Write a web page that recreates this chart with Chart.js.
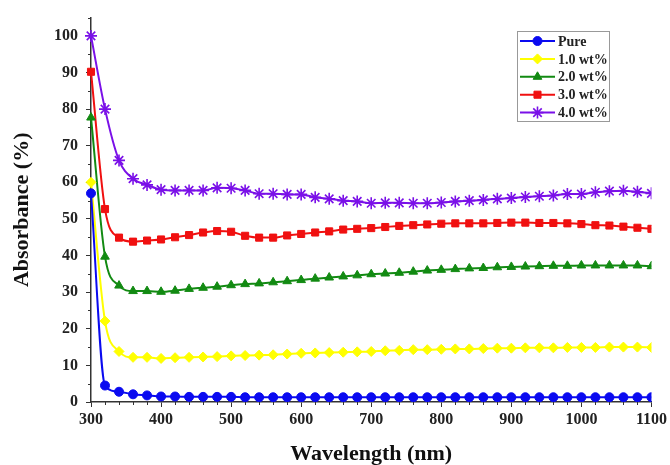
<!DOCTYPE html>
<html>
<head>
<meta charset="utf-8">
<script src="https://cdn.jsdelivr.net/npm/chart.js@4/dist/chart.umd.min.js"></script>
<style>
  html, body { margin: 0; padding: 0; background: #fff; }
  #wrap { width: 670px; height: 465px; position: relative; }
</style>
</head>
<body>
<div id="wrap"><canvas id="c" width="670" height="465"></canvas></div>
<script>
// Wavelength grid (nm)
const wavelengths = [300,320,340,360,380,400,420,440,460,480,500,520,540,560,580,600,620,640,660,680,700,
  720,740,760,780,800,820,840,860,880,900,920,940,960,980,1000,1020,1040,1060,1080,1100];

// Absorbance (%) for each sample
const pure = [57,4.5,2.8,2.1,1.8,1.5,1.5,1.4,1.4,1.4,1.4,1.3,1.3,1.3,1.3,1.3,1.3,1.3,1.3,1.3,1.3,
  1.3,1.3,1.3,1.3,1.3,1.3,1.3,1.3,1.3,1.3,1.3,1.3,1.3,1.3,1.3,1.3,1.3,1.3,1.3,1.3];
const wt10 = [60,22.1,13.8,12.2,12.2,11.9,12.1,12.2,12.3,12.4,12.6,12.7,12.8,12.9,13.1,13.3,13.4,13.5,13.6,13.7,13.8,
  14.0,14.1,14.3,14.3,14.4,14.5,14.5,14.6,14.7,14.7,14.8,14.8,14.8,14.9,14.9,14.9,15.0,15.0,15.0,14.9];
const wt20 = [77.7,39.7,31.8,30.3,30.3,30.1,30.4,30.9,31.2,31.5,31.9,32.2,32.4,32.7,33.0,33.3,33.7,34.0,34.3,34.6,34.9,
  35.1,35.3,35.6,35.9,36.1,36.3,36.5,36.6,36.8,36.9,37.0,37.1,37.2,37.2,37.3,37.3,37.3,37.3,37.3,37.1];
const wt30 = [90.2,52.7,44.9,43.8,44.1,44.4,45.0,45.6,46.3,46.7,46.5,45.4,44.9,44.9,45.5,45.9,46.3,46.6,47.1,47.3,47.5,
  47.8,48.1,48.3,48.5,48.7,48.8,48.8,48.8,48.9,49.0,49.0,48.9,48.9,48.8,48.6,48.3,48.2,47.9,47.6,47.3];
const wt40 = [100,80,66,61,59.3,58,57.8,57.8,57.8,58.5,58.4,57.8,56.9,56.9,56.7,56.7,55.9,55.5,55.0,54.8,54.3,
  54.4,54.4,54.3,54.3,54.5,54.8,55.0,55.2,55.5,55.7,56.0,56.2,56.4,56.8,56.8,57.3,57.6,57.7,57.4,57.0];

const seriesNames = ['Pure', '1.0 wt%', '2.0 wt%', '3.0 wt%', '4.0 wt%'];
const xTickValues = [300,400,500,600,700,800,900,1000,1100];
const yTickValues = [0,10,20,30,40,50,60,70,80,90,100];

const serif = '"Liberation Serif", "Times New Roman", serif';

function pts(values) {
  return wavelengths.map((w, i) => ({ x: w, y: values[i] }));
}

const styles = [
  { color: '#0a0af0', pointStyle: 'circle',   radius: 4.5, bw: 1 },
  { color: '#ffff00', pointStyle: 'rectRot',  radius: 5,   bw: 1 },
  { color: '#128a12', pointStyle: 'triangle', radius: 5,   bw: 1 },
  { color: '#f01010', pointStyle: 'rect',     radius: 5,   bw: 1 },
  { color: '#7a10e8', pointStyle: 'star',     radius: 6,   bw: 1.6 }
];
const allValues = [pure, wt10, wt20, wt30, wt40];

const datasets = allValues.map((vals, i) => ({
  label: seriesNames[i],
  data: pts(vals),
  borderColor: styles[i].color,
  backgroundColor: styles[i].color,
  pointBackgroundColor: styles[i].color,
  pointBorderColor: styles[i].color,
  pointStyle: styles[i].pointStyle,
  pointRadius: styles[i].radius,
  pointBorderWidth: styles[i].bw,
  borderWidth: 2,
  tension: 0.4,
  cubicInterpolationMode: 'monotone',
  clip: { left: 10, top: 10, right: 0, bottom: 0 }
}));

// Minor tick marks on both axes
const minorTicks = {
  id: 'minorTicks',
  afterDraw(chart) {
    const ctx = chart.ctx;
    const xs = chart.scales.x, ys = chart.scales.y;
    ctx.save();
    ctx.strokeStyle = '#333';
    ctx.lineWidth = 1;
    ctx.beginPath();
    for (let v = 5; v <= 105; v += 10) {
      const py = Math.round(ys.getPixelForValue(v)) + 0.5;
      ctx.moveTo(xs.left - 3, py);
      ctx.lineTo(xs.left, py);
    }
    for (let v = 320; v < 1100; v += 20) {
      if (v % 100 === 0) continue;
      const px = Math.round(xs.getPixelForValue(v)) + 0.5;
      ctx.moveTo(px, ys.bottom);
      ctx.lineTo(px, ys.bottom + 3);
    }
    ctx.stroke();
    ctx.restore();
  }
};

// Boxed legend inside the plot, line + marker per sample
const boxLegend = {
  id: 'boxLegend',
  afterDraw(chart) {
    const ctx = chart.ctx;
    const bx = 517.5, by = 31.5, bw = 92, bh = 90;
    ctx.save();
    ctx.fillStyle = '#fff';
    ctx.fillRect(bx, by, bw, bh);
    ctx.strokeStyle = '#999';
    ctx.lineWidth = 1;
    ctx.strokeRect(bx, by, bw, bh);
    chart.data.datasets.forEach((ds, i) => {
      const y = 41 + i * 17.9;
      ctx.strokeStyle = ds.borderColor;
      ctx.lineWidth = 2;
      ctx.beginPath();
      ctx.moveTo(520, y);
      ctx.lineTo(555, y);
      ctx.stroke();
      ctx.fillStyle = ds.pointBackgroundColor;
      ctx.strokeStyle = ds.pointBorderColor;
      ctx.lineWidth = ds.pointBorderWidth;
      Chart.helpers.drawPoint(ctx, {
        pointStyle: ds.pointStyle, radius: ds.pointRadius, rotation: 0, borderWidth: ds.pointBorderWidth
      }, 537.5, y);
      ctx.fillStyle = '#222';
      ctx.font = 'bold 14px ' + serif;
      ctx.textBaseline = 'middle';
      ctx.textAlign = 'left';
      ctx.fillText(ds.label, 558, y + 1);
    });
    ctx.restore();
  }
};

new Chart(document.getElementById('c'), {
  type: 'line',
  data: { datasets },
  options: {
    responsive: false,
    animation: false,
    layout: { padding: { top: 14, right: 17, left: 0, bottom: 0 } },
    plugins: { legend: { display: false }, tooltip: { enabled: false } },
    scales: {
      x: {
        type: 'linear',
        min: 300, max: 1100,
        afterBuildTicks: s => { s.ticks = xTickValues.map(v => ({ value: v })); },
        afterFit: s => { s.height = 63; },
        border: { display: true, color: '#333', width: 1.5 },
        grid: { display: true, drawOnChartArea: false, drawTicks: true, tickLength: 5, tickColor: '#333', tickWidth: 1 },
        ticks: { color: '#222', padding: 3, maxRotation: 0, callback: v => String(v),
                 font: { family: serif, size: 16, weight: 'bold' } },
        title: { display: true, text: 'Wavelength (nm)', color: '#111', padding: { top: 0, bottom: 0 },
                 font: { family: serif, size: 22, weight: 'bold', lineHeight: 1 } }
      },
      y: {
        type: 'linear',
        min: 0, max: 105,
        afterBuildTicks: s => { s.ticks = yTickValues.map(v => ({ value: v })); },
        afterFit: s => { s.width = 91; },
        border: { display: true, color: '#333', width: 1.5 },
        grid: { display: true, drawOnChartArea: false, drawTicks: true, tickLength: 5, tickColor: '#333', tickWidth: 1 },
        ticks: { color: '#222', padding: 8, callback: v => String(v),
                 font: { family: serif, size: 16, weight: 'bold' } },
        title: { display: true, text: 'Absorbance (%)', color: '#111', padding: { top: 11, bottom: 0 },
                 font: { family: serif, size: 22, weight: 'bold', lineHeight: 1 } }
      }
    }
  },
  plugins: [minorTicks, boxLegend]
});
</script>
</body>
</html>
